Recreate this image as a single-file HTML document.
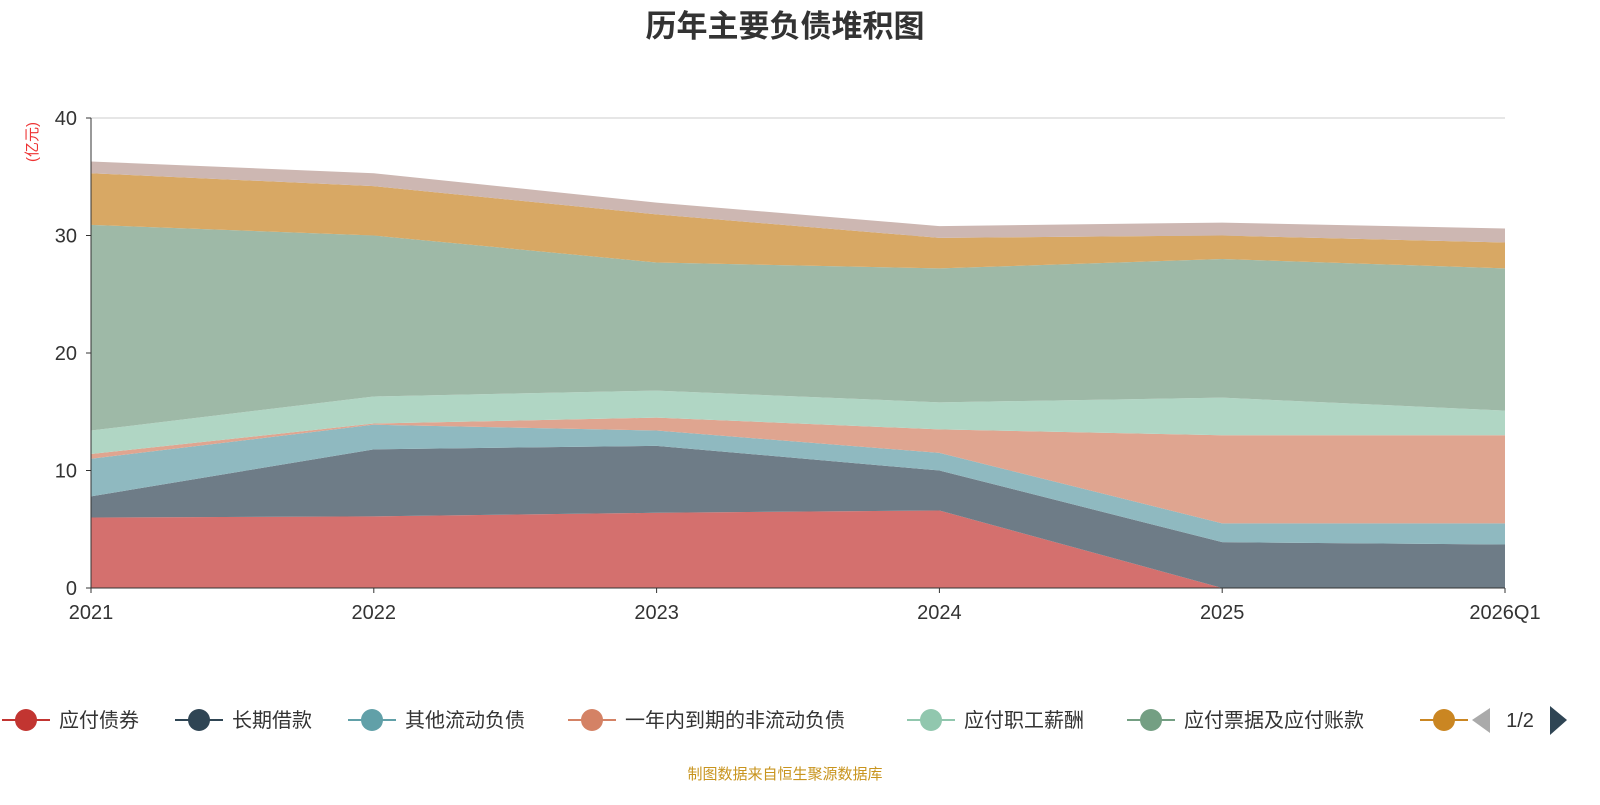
<!DOCTYPE html>
<html><head><meta charset="utf-8"><style>
body{margin:0;background:#fff;font-family:"Liberation Sans","Noto Sans CJK SC",sans-serif}
svg text{font-family:"Liberation Sans","Noto Sans CJK SC",sans-serif}
</style></head><body>
<svg id="c" width="1600" height="800">
<text x="785" y="37" text-anchor="middle" font-size="31" font-weight="bold" fill="#333">历年主要负债堆积图</text>
<text transform="translate(37,142) rotate(-90)" text-anchor="middle" font-size="15" fill="#e33">(亿元)</text>
<g id="grid"></g><g id="areas"></g><g id="axes"></g><g id="legend"></g>
<text x="785" y="779" text-anchor="middle" font-size="15" fill="#c8941e">制图数据来自恒生聚源数据库</text>
</svg>
<script>
const categories=["2021","2022","2023","2024","2025","2026Q1"];
const seriesNames=["应付债券","长期借款","其他流动负债","一年内到期的非流动负债","应付职工薪酬","应付票据及应付账款","其他","其他负债"];
const s1=[6.0,6.1,6.4,6.6,0,0];
const s2=[1.8,5.7,5.7,3.4,3.9,3.7];
const s3=[3.2,2.1,1.3,1.5,1.6,1.8];
const s4=[0.4,0.1,1.1,2.0,7.5,7.5];
const s5=[2.0,2.3,2.3,2.3,3.2,2.1];
const s6=[17.5,13.7,10.9,11.4,11.8,12.1];
const s7=[4.4,4.2,4.1,2.6,2.0,2.2];
const s8=[1.0,1.1,1.0,1.0,1.1,1.2];
const yTicks=[0,10,20,30,40];
const series=[s1,s2,s3,s4,s5,s6,s7,s8];
const fills=["#d4706e","#6e7c87","#8fb9c0","#dfa590","#b0d6c4","#9eb9a7","#d8a864","#cdb7b2"];
const legendColors=["#c23531","#2f4554","#61a0a8","#d48265","#91c7ae","#749f83","#ca8622"];
const NS="http://www.w3.org/2000/svg";
const X0=91,X1=1505,Y0=588,Y1=118,YMAX=40;
const x=i=>X0+i*(X1-X0)/(categories.length-1);
const y=v=>Y0-v/YMAX*(Y0-Y1);
function mk(t,a,p){const e=document.createElementNS(NS,t);for(const k in a)e.setAttribute(k,a[k]);p.appendChild(e);return e;}
const grid=document.getElementById('grid'),areas=document.getElementById('areas'),axes=document.getElementById('axes'),leg=document.getElementById('legend');
yTicks.forEach(t=>{
 const l=mk('line',{x1:X0,x2:X1,y1:y(t),y2:y(t),stroke:"#ccc"},grid);
 
 
 const tx=mk('text',{x:X0-14,y:y(t)+7,'text-anchor':'end','font-size':20,fill:'#333'},axes);tx.textContent=t;
 
 
 mk('line',{x1:X0-5,x2:X0,y1:y(t),y2:y(t),stroke:'#333'},axes);
});
let base=categories.map(()=>0);
series.forEach((s,k)=>{
 const top=base.map((b,i)=>b+s[i]);
 let d="M"+top.map((v,i)=>x(i)+","+y(v)).join("L");
 for(let i=categories.length-1;i>=0;i--)d+="L"+x(i)+","+y(base[i]);
 const p=mk('path',{d:d+"Z",fill:fills[k]},areas);
 
 
 base=top;
});
mk('line',{x1:X0,x2:X0,y1:Y1,y2:Y0,stroke:'#333'},axes);
mk('line',{x1:X0,x2:X1,y1:Y0,y2:Y0,stroke:'#333'},axes);
categories.forEach((c,i)=>{
 mk('line',{x1:x(i),x2:x(i),y1:Y0,y2:Y0+5,stroke:'#333'},axes);
 const t=mk('text',{x:x(i),y:Y0+31,'text-anchor':'middle','font-size':20,fill:'#333'},axes);t.textContent=c;
 
 
});
const lx=[2,175,348,568,907,1127,1420];
for(let k=0;k<7;k++){
 const g=mk('g',{},leg);
 
 
 mk('line',{x1:lx[k],x2:lx[k]+48,y1:720,y2:720,stroke:legendColors[k],'stroke-width':2},g);
 mk('circle',{cx:lx[k]+24,cy:720,r:11,fill:legendColors[k]},g);
 if(k<6){const t=mk('text',{x:lx[k]+57,y:727,'font-size':20,fill:'#333'},g);t.textContent=seriesNames[k];}
}
const pg=mk('g',{},leg);


mk('path',{d:"M1490,708L1472,720L1490,733Z",fill:'#aaa'},pg);
const pt=mk('text',{x:1520,y:727,'text-anchor':'middle','font-size':20,fill:'#333'},pg);pt.textContent="1/2";
mk('path',{d:"M1550,706L1567,720L1550,735Z",fill:'#2f4554'},pg);
</script>
</body></html>
